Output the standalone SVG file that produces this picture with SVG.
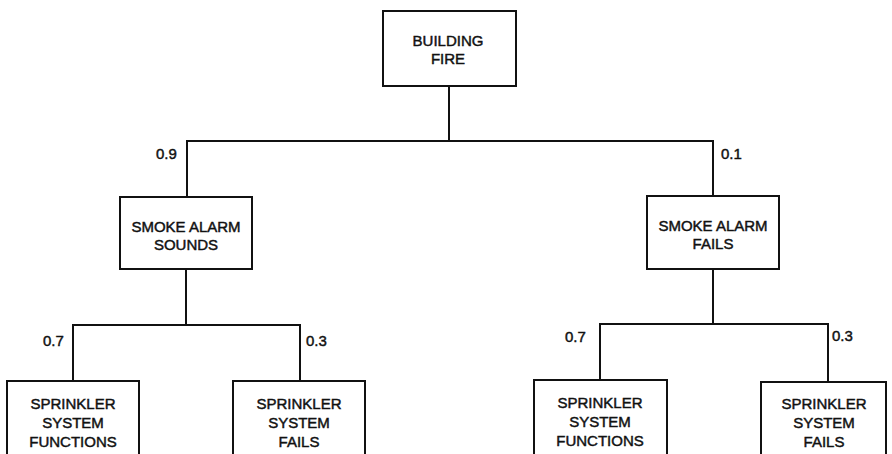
<svg xmlns="http://www.w3.org/2000/svg" width="892" height="454" viewBox="0 0 892 454">
<style>
.box{fill:#fff;stroke:#111;stroke-width:2}
.ln{fill:none;stroke:#111;stroke-width:2}
text{font-family:"Liberation Sans",Arial,sans-serif;font-size:15px;fill:#111;stroke:#111;stroke-width:0.45;text-anchor:middle}
.p{text-anchor:start}
</style>
<rect width="892" height="454" fill="#fff"/>
<g id="connectors">
<path class="ln" d="M449,86 V141"/>
<path class="ln" d="M187,197 V141 H713 V196"/>
<path class="ln" d="M186,269 V325"/>
<path class="ln" d="M73,381 V325 H300 V381"/>
<path class="ln" d="M713,269 V324"/>
<path class="ln" d="M600,380 V324 H828 V382"/>
<text class="p" x="156" y="159">0.9</text>
<text class="p" x="721" y="159">0.1</text>
<text class="p" x="43" y="346">0.7</text>
<text class="p" x="306" y="346">0.3</text>
<text class="p" x="565" y="342">0.7</text>
<text class="p" x="832" y="341">0.3</text>
</g>
<g id="building-fire">
<rect class="box" x="383" y="11" width="133" height="75"/>
<text x="448" y="46">BUILDING</text>
<text x="448" y="64">FIRE</text>
</g>
<g id="smoke-alarm-sounds">
<rect class="box" x="120" y="197" width="132" height="72"/>
<text x="186" y="232">SMOKE ALARM</text>
<text x="186" y="250">SOUNDS</text>
</g>
<g id="smoke-alarm-fails">
<rect class="box" x="647" y="196" width="132" height="73"/>
<text x="713" y="231">SMOKE ALARM</text>
<text x="713" y="249">FAILS</text>
</g>
<g id="sprinkler-functions-1">
<rect class="box" x="7" y="381" width="132" height="90"/>
<text x="73" y="409">SPRINKLER</text>
<text x="73" y="428">SYSTEM</text>
<text x="73" y="447">FUNCTIONS</text>
</g>
<g id="sprinkler-fails-1">
<rect class="box" x="233" y="381" width="132" height="90"/>
<text x="299" y="409">SPRINKLER</text>
<text x="299" y="428">SYSTEM</text>
<text x="299" y="447">FAILS</text>
</g>
<g id="sprinkler-functions-2">
<rect class="box" x="534" y="380" width="133" height="90"/>
<text x="600" y="408">SPRINKLER</text>
<text x="600" y="427">SYSTEM</text>
<text x="600" y="446">FUNCTIONS</text>
</g>
<g id="sprinkler-fails-2">
<rect class="box" x="761" y="382" width="125" height="90"/>
<text x="824" y="409">SPRINKLER</text>
<text x="824" y="428">SYSTEM</text>
<text x="824" y="447">FAILS</text>
</g>
</svg>
